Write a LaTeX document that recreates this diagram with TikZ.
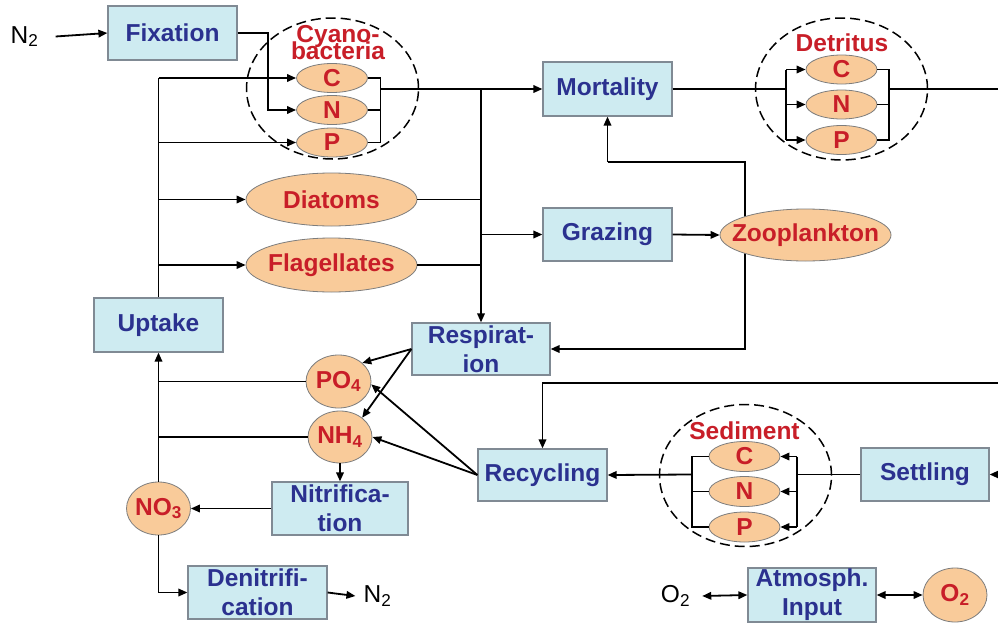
\documentclass[tikz,border=0pt]{standalone}
\usepackage{fontspec}
\setmainfont{Liberation Sans}
\usetikzlibrary{shapes.geometric,arrows.meta,backgrounds}
\definecolor{boxfill}{RGB}{206,235,241}
\definecolor{boxline}{RGB}{128,138,148}
\definecolor{ellfill}{RGB}{249,203,154}
\definecolor{ellline}{RGB}{125,125,125}
\definecolor{tblue}{RGB}{43,49,143}
\definecolor{tred}{RGB}{200,30,40}
\newcommand{\bfnt}{\bfseries\fontsize{24.5}{29}\selectfont}
\newcommand{\rgnt}{\fontsize{24.5}{29}\selectfont}
\newcommand{\cyfnt}{\bfseries\fontsize{24.5}{17}\selectfont\lineskiplimit=-100pt\relax\lineskip=0pt\relax}
\begin{document}
\begin{tikzpicture}[x=1pt,y=-1pt,
  proc/.style={rectangle, draw=boxline, line width=1.2pt, fill=boxfill, inner sep=0pt, align=center, text=tblue, font=\bfnt, minimum width=129pt, minimum height=53pt},
  ell/.style={ellipse, draw=ellline, line width=0.8pt, fill=ellfill, inner sep=0pt},
  elab/.style={text=tred, font=\bfnt, inner sep=0pt},
  plain/.style={text=black, font=\rgnt, inner sep=0pt},
  grp/.style={ellipse, draw=black, line width=1.5pt, dash pattern=on 10pt off 5pt, inner sep=0pt, minimum width=172pt, minimum height=142pt},
  flow/.style={line width=1.8pt, draw=black},
  arr/.style={flow, -{Triangle[length=9pt,width=7.5pt]}},
  darr/.style={flow, {Triangle[length=9pt,width=7.5pt]}-{Triangle[length=9pt,width=7.5pt]}}
]
\useasboundingbox (0,0) rectangle (998,624);

% ---------- process boxes ----------
\node[proc] (fix)  at (172.5,33)  [minimum height=54pt] {Fixation};
\node[proc] (mort) at (607.5,89)  [minimum height=54pt] {Mortality};
\node[proc] (graz) at (607.5,234.5) {Grazing};
\node[proc] (upt)  at (158.5,325) [minimum height=54pt] {Uptake};
\node[proc] (resp) at (481,349)   [minimum width=138pt, minimum height=52pt] {Respirat-\\ion};
\node[proc] (nit)  at (340,508.5) [minimum width=136pt] {Nitrifica-\\tion};
\node[proc] (den)  at (257.5,592.5) [minimum width=139pt] {Denitrifi-\\cation};
\node[proc] (rec)  at (542.5,475) [minimum height=52pt] {Recycling};
\node[proc] (sett) at (925,474.5) [minimum width=128pt] {Settling};
\node[proc] (atm)  at (812,595)   [minimum width=128pt, minimum height=54pt] {Atmosph.\\Input};

% ---------- groups ----------
\node[grp] (cyano) at (332.5,88.5) [minimum height=141pt] {};
\node[elab, align=center, font=\cyfnt] (cyat) at (338,42.5) {Cyano-\\bacteria};
\node[grp] (detr) at (841.5,89) {};
\node[elab] (detl) at (842,43) {Detritus};
\node[grp] (sedi) at (745.5,475.5) {};
\node[elab] (sedl) at (744.5,431) {Sediment};

% ---------- state variables ----------
\node[ell, minimum width=71pt, minimum height=29pt, label={[elab]center:C}] (cC) at (332,78) {};
\node[ell, minimum width=71pt, minimum height=29pt, label={[elab]center:N}] (cN) at (332,110) {};
\node[ell, minimum width=71pt, minimum height=29pt, label={[elab]center:P}] (cP) at (332,142.5) {};
\node[ell, minimum width=171pt, minimum height=53pt, label={[elab]center:Diatoms}] (diat) at (331.5,199.5) {};
\node[ell, minimum width=171pt, minimum height=54pt, label={[elab]center:Flagellates}] (flag) at (331.5,265) {};
\node[ell, minimum width=71pt, minimum height=29pt, label={[elab]center:C}] (dC) at (841.5,69.5) {};
\node[ell, minimum width=71pt, minimum height=29pt, label={[elab]center:N}] (dN) at (841.5,104.5) {};
\node[ell, minimum width=71pt, minimum height=29pt, label={[elab]center:P}] (dP) at (841.5,140) {};
\node[ell, minimum width=171pt, minimum height=52pt, label={[elab]center:Zooplankton}] (zoo) at (805.5,235) {};
\node[ell, minimum width=65pt, minimum height=53pt, label={[elab]center:PO\textsubscript{4}}] (po4) at (338.5,381.5) {};
\node[ell, minimum width=64pt, minimum height=52pt, label={[elab]center:NH\textsubscript{4}}] (nh4) at (340,437) {};
\node[ell, minimum width=64pt, minimum height=53pt, label={[elab]center:NO\textsubscript{3}}] (no3) at (158.5,508.5) {};
\node[ell, minimum width=71pt, minimum height=30pt, label={[elab]center:C}] (sC) at (744.5,456.5) {};
\node[ell, minimum width=71pt, minimum height=30pt, label={[elab]center:N}] (sN) at (744.5,491.5) {};
\node[ell, minimum width=71pt, minimum height=30pt, label={[elab]center:P}] (sP) at (744.5,527) {};
\node[ell, minimum width=64pt, minimum height=54pt, label={[elab]center:O\textsubscript{2}}] (o2r) at (955,595) {};

% ---------- plain labels ----------
\node[plain] (n2a) at (24.5,36.5) {N\textsubscript{2}};
\node[plain] (n2b) at (377.5,596) {N\textsubscript{2}};
\node[plain] (o2l) at (675.5,596) {O\textsubscript{2}};

% ---------- coordinates ----------
\coordinate (cb) at (380.5,89);
\coordinate (dl) at (786,89);
\coordinate (dr) at (889,89);
\coordinate (edA) at (998,89);
\coordinate (edB) at (998,383);
\coordinate (edC) at (998,474.5);
\coordinate (sr) at (797,474.5);
\coordinate (sl) at (692,474.5);
\coordinate (zv) at (745,235);
\coordinate (zk) at (607.5,162);

% ---------- connectors ----------
\draw[arr] ([xshift=17pt]n2a.east) -- (fix.west);
\draw[arr] (fix.east) -- ++(30,0) |- (cN.west);

\draw[flow] (upt.north) -- (upt.north |- cC.west);
\draw[arr] (upt.north |- cC.west) -- (cC.west);
\draw[arr] (upt.north |- cP.west) -- (cP.west);
\draw[arr] (upt.north |- diat.west) -- (diat.west);
\draw[arr] (upt.north |- flag.west) -- (flag.west);

\draw[flow] (cC.east) -| (cb |- cP.east) -- (cP.east);
\draw[flow] (cN.east) -- (cN.east -| cb);
\draw[arr] (cb) -- (mort.west);
\draw[arr] (resp.north |- cb) -- (resp.north);
\draw[flow] (diat.east) -- (diat.east -| resp.north);
\draw[flow] (flag.east) -- (flag.east -| resp.north);
\draw[arr] (graz.west -| resp.north) -- (graz.west);
\draw[arr] (graz.east) -- (zoo.west);

\draw[flow] (mort.east) -- (dl);
\draw[flow] (dl |- dC.west) -- (dl |- dP.west);
\draw[arr] (dl |- dC.west) -- (dC.west);
\draw[arr] (dl |- dN.west) -- (dN.west);
\draw[arr] (dl |- dP.west) -- (dP.west);
\draw[flow] (dC.east) -| (dr |- dP.east) -- (dP.east);
\draw[flow] (dN.east) -- (dN.east -| dr);
\draw[flow] (dr) -- (edA);

\draw[arr] (zk) -- (mort.south);

\draw[arr] (resp.west) -- (po4.38);
\draw[arr] (resp.west) -- (nh4.41);
\draw[arr] (rec.west) -- (po4.-5);
\draw[arr] (rec.west) -- (nh4.east);

\draw[flow] (po4.west) -- (po4.west -| upt.south);
\draw[flow] (nh4.west) -- (nh4.west -| upt.south);
\draw[arr] (no3.north) -- (upt.south);
\draw[arr] (nh4.south) -- (nit.north);
\draw[arr] (nit.west) -- (no3.east);
\draw[arr] (no3.south) |- (den.west);
\draw[arr] (den.east) -- ([xshift=-8pt]n2b.west);

\draw[arr] (edB) -| (rec.north);
\draw[flow] (sett.west) -- (sr);
\draw[flow] (sr |- sC.east) -- (sr |- sP.east);
\draw[arr] (sr |- sC.east) -- (sC.east);
\draw[arr] (sr |- sN.east) -- (sN.east);
\draw[arr] (sr |- sP.east) -- (sP.east);
\draw[flow] (sC.west) -| (sl |- sP.west) -- (sP.west);
\draw[flow] (sN.west) -- (sN.west -| sl);
\draw[arr] (sl) -- (rec.east);
\draw[arr] (edC) -- (sett.east);

\draw[darr] ([xshift=12pt]o2l.east) -- (atm.west);
\draw[darr] (atm.east) -- (o2r.west);

\begin{scope}[on background layer]
  \fill[white] (0,0) rectangle (998,624);
  \draw[flow] (zv) |- (zk);
  \draw[arr] (zv) |- (resp.east);
\end{scope}
\end{tikzpicture}
\end{document}
